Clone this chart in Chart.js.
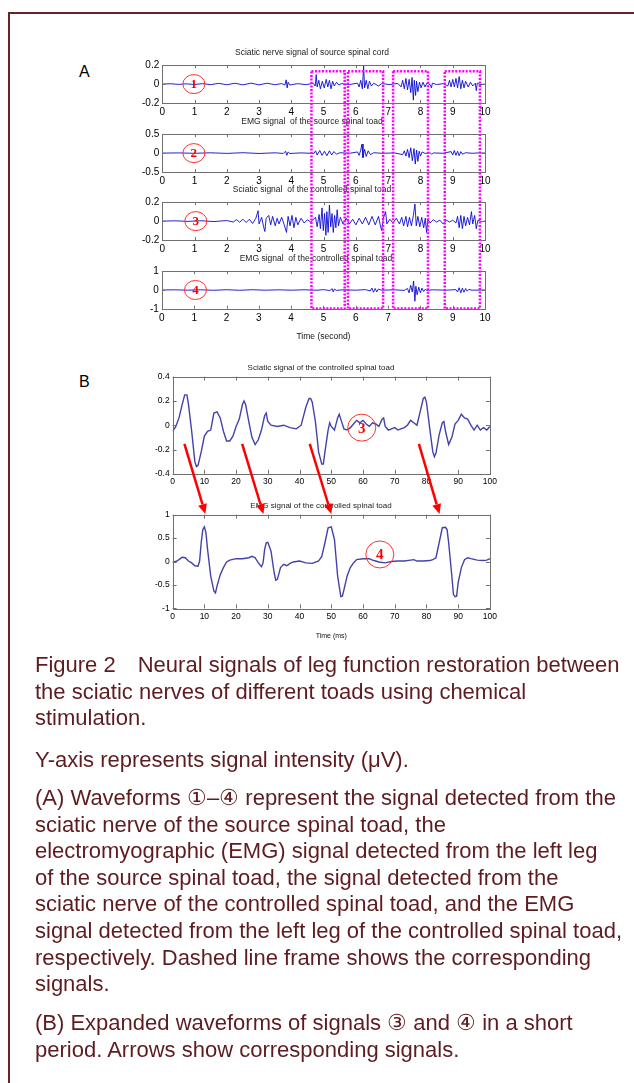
<!DOCTYPE html>
<html>
<head>
<meta charset="utf-8">
<script src="https://cdn.jsdelivr.net/npm/chart.js@4.4.0/dist/chart.umd.min.js"></script>
<style>
body{margin:0;width:634px;height:1083px;background:#fff;position:relative;overflow:hidden;font-family:Arial,"Liberation Sans",sans-serif}
.frame{position:absolute;left:8px;top:12px;width:700px;height:1200px;border-left:2px solid #6b2226;border-top:2px solid #6b2226}
canvas.c{position:absolute;left:0;top:0}
#overlay{position:absolute;left:0;top:0}
.panel{position:absolute;font-size:16px;color:#000}
.cap{position:absolute;left:35px;color:#5e1c20;font-size:22px;line-height:26.6px;white-space:nowrap}
</style>
</head>
<body>
<div class="frame"></div>
<div class="panel" style="left:79px;top:63px">A</div>
<div class="panel" style="left:79px;top:373px">B</div>
<canvas class="c" id="a1"></canvas>
<canvas class="c" id="a2"></canvas>
<canvas class="c" id="a3"></canvas>
<canvas class="c" id="a4"></canvas>
<canvas class="c" id="b1"></canvas>
<canvas class="c" id="b2"></canvas>
<canvas id="overlay" width="634" height="1083"></canvas>

<div class="cap" style="top:652px">Figure 2&ensp;&ensp;Neural signals of leg function restoration between<br>the sciatic nerves of different toads using chemical<br>stimulation.</div>
<div class="cap" style="top:747px">Y-axis represents signal intensity (μV).</div>
<div class="cap" style="top:785px">(A) Waveforms ①–④ represent the signal detected from the<br>sciatic nerve of the source spinal toad, the<br>electromyographic (EMG) signal detected from the left leg<br>of the source spinal toad, the signal detected from the<br>sciatic nerve of the controlled spinal toad, and the EMG<br>signal detected from the left leg of the controlled spinal toad,<br>respectively. Dashed line frame shows the corresponding<br>signals.</div>
<div class="cap" style="top:1010px">(B) Expanded waveforms of signals ③ and ④ in a short<br>period. Arrows show corresponding signals.</div>

<script>
// signal samples: [time, value]
const sciaticSource = [[0,0],[0.25,0.004],[0.5,-0.003],[0.75,0.003],[1.0,-0.004],[1.25,0.005],[1.5,-0.006],[1.75,0.008],[2.0,-0.007],[2.25,0.009],[2.5,-0.008],[2.75,0.01],[3.0,-0.008],[3.25,0.009],[3.5,-0.007],[3.7,0.006],[3.8,-0.01],[3.84,0.045],[3.87,-0.04],[3.9,0.02],[3.95,-0.01],[4.2,0.005],[4.45,-0.006],[4.68,0.008],[4.74,-0.02],[4.77,0.1],[4.8,-0.03],[4.85,0.04],[4.9,-0.05],[4.96,0.03],[5.02,-0.04],[5.08,0.05],[5.13,-0.03],[5.18,0.04],[5.23,-0.05],[5.28,0.03],[5.33,-0.02],[5.4,0.02],[5.47,-0.01],[5.55,0.005],[5.8,-0.005],[6.05,0.01],[6.1,-0.03],[6.15,0.04],[6.2,-0.05],[6.24,0.19],[6.27,-0.04],[6.32,0.04],[6.37,-0.05],[6.42,0.03],[6.48,-0.02],[6.55,0.01],[6.7,-0.02],[6.8,0.005],[7.05,-0.005],[7.3,0.008],[7.4,-0.03],[7.45,0.04],[7.5,-0.05],[7.55,0.06],[7.6,-0.06],[7.65,0.05],[7.7,-0.09],[7.74,0.07],[7.78,-0.17],[7.81,0.04],[7.85,-0.12],[7.88,0.03],[7.92,-0.08],[7.97,0.02],[8.02,-0.04],[8.08,0.02],[8.14,-0.03],[8.2,0.01],[8.3,-0.005],[8.34,-0.04],[8.37,0.01],[8.5,-0.005],[8.7,0.005],[8.85,-0.02],[8.9,0.04],[8.95,-0.03],[9.0,0.05],[9.05,-0.03],[9.1,0.06],[9.15,-0.04],[9.2,0.08],[9.25,-0.05],[9.3,0.04],[9.35,-0.04],[9.4,0.03],[9.48,-0.03],[9.55,0.02],[9.62,-0.02],[9.7,0.01],[9.73,-0.07],[9.76,0.01],[9.85,-0.005],[10,0]];
const emgSource = [[0,0],[0.5,0.005],[1,-0.005],[1.5,0.008],[2,-0.008],[2.5,0.01],[3,-0.01],[3.5,0.008],[3.75,-0.01],[3.82,0.05],[3.86,-0.06],[3.9,0.03],[3.95,-0.01],[4.3,0.005],[4.7,-0.008],[4.75,0.06],[4.8,-0.05],[4.88,0.07],[4.95,-0.06],[5.03,0.05],[5.1,-0.07],[5.18,0.06],[5.25,-0.05],[5.32,0.04],[5.4,-0.03],[5.5,0.01],[5.8,-0.005],[6.05,0.03],[6.1,-0.06],[6.15,0.08],[6.19,0.24],[6.22,-0.12],[6.27,0.1],[6.32,-0.09],[6.38,0.06],[6.45,-0.04],[6.55,0.01],[6.8,-0.005],[7.2,0.005],[7.45,-0.04],[7.5,0.06],[7.55,-0.08],[7.6,0.1],[7.65,-0.12],[7.7,0.14],[7.75,-0.2],[7.8,0.12],[7.84,-0.29],[7.88,0.08],[7.92,-0.22],[7.96,0.05],[8.0,-0.08],[8.05,0.03],[8.15,-0.01],[8.3,0.005],[8.35,-0.03],[8.4,0.005],[8.7,-0.005],[8.95,0.04],[9.0,-0.05],[9.05,0.07],[9.1,-0.06],[9.15,0.05],[9.2,-0.07],[9.25,0.04],[9.3,-0.03],[9.4,0.01],[9.6,-0.005],[9.8,0.005],[10,0]];
const sciaticControlled = [[0,0],[0.4,0.003],[0.8,-0.003],[1.2,0.004],[1.6,-0.005],[2.0,0.006],[2.2,-0.01],[2.3,0.015],[2.4,-0.012],[2.5,0.02],[2.6,-0.015],[2.7,0.02],[2.8,-0.025],[2.9,0.03],[2.97,0.11],[3.0,-0.03],[3.08,0.04],[3.14,-0.06],[3.18,-0.11],[3.22,0.03],[3.3,0.06],[3.36,-0.04],[3.42,0.05],[3.5,-0.05],[3.56,0.03],[3.62,-0.03],[3.7,0.04],[3.78,-0.04],[3.85,-0.12],[3.9,0.05],[3.96,-0.05],[4.02,0.06],[4.08,-0.07],[4.14,0.04],[4.2,-0.04],[4.3,0.03],[4.4,-0.02],[4.5,0.015],[4.6,-0.01],[4.75,0.04],[4.8,-0.06],[4.86,0.07],[4.9,-0.08],[4.95,0.14],[4.99,-0.1],[5.03,0.08],[5.07,-0.15],[5.1,0.1],[5.14,-0.12],[5.18,0.17],[5.22,-0.06],[5.26,0.08],[5.3,-0.12],[5.34,0.06],[5.38,-0.07],[5.42,0.12],[5.46,-0.05],[5.52,0.04],[5.6,-0.03],[5.7,0.03],[5.8,-0.03],[5.9,0.02],[6.0,-0.04],[6.1,0.03],[6.2,-0.03],[6.3,0.04],[6.4,-0.04],[6.5,0.05],[6.6,-0.04],[6.7,0.05],[6.76,-0.05],[6.8,-0.1],[6.85,0.03],[6.92,0.1],[6.96,-0.03],[7.05,0.02],[7.15,-0.02],[7.25,0.03],[7.35,-0.03],[7.42,0.04],[7.48,-0.05],[7.55,0.05],[7.6,-0.06],[7.66,0.04],[7.72,-0.05],[7.78,0.06],[7.83,0.18],[7.87,-0.05],[7.92,0.05],[7.98,-0.06],[8.04,0.04],[8.1,-0.07],[8.15,0.03],[8.19,-0.12],[8.23,0.02],[8.3,-0.02],[8.4,0.015],[8.5,-0.01],[8.6,0.01],[8.7,-0.03],[8.8,0.01],[8.9,-0.01],[9.0,0.01],[9.1,-0.02],[9.15,0.05],[9.2,-0.07],[9.25,0.06],[9.3,-0.08],[9.35,0.05],[9.4,-0.05],[9.46,0.04],[9.52,-0.04],[9.58,0.1],[9.62,-0.03],[9.68,0.06],[9.73,-0.08],[9.78,0.01],[9.9,-0.005],[10,0]];
const emgControlled = [[0,0],[0.4,0.01],[0.8,-0.01],[1.2,0.01],[1.6,-0.015],[2.0,0.015],[2.4,-0.015],[2.8,0.015],[3.2,-0.012],[3.6,0.01],[4.0,-0.01],[4.4,0.01],[4.8,-0.012],[5.0,0.02],[5.2,-0.03],[5.27,0.07],[5.3,-0.1],[5.34,0.05],[5.4,-0.02],[5.6,0.01],[6.0,-0.01],[6.3,0.02],[6.45,-0.05],[6.5,0.1],[6.55,-0.12],[6.6,0.08],[6.65,-0.1],[6.7,0.05],[6.8,-0.01],[7.2,0.01],[7.5,-0.02],[7.6,0.08],[7.65,-0.15],[7.7,0.25],[7.75,-0.1],[7.79,0.48],[7.83,-0.6],[7.86,0.2],[7.9,-0.25],[7.95,0.15],[8.0,-0.15],[8.05,0.1],[8.1,-0.08],[8.15,0.04],[8.2,-0.02],[8.4,0.01],[8.8,-0.01],[9.1,0.02],[9.15,-0.1],[9.2,0.12],[9.25,-0.15],[9.3,0.1],[9.35,-0.12],[9.4,0.08],[9.45,-0.06],[9.5,0.03],[9.6,-0.01],[10,0]];

// expanded 100 ms windows (panel B)
const sciaticMs = [[0,-0.05],[1,-0.01],[2,0.06],[3,0.17],[3.8,0.25],[4.5,0.25],[5,0.17],[6,-0.05],[7,-0.3],[7.5,-0.34],[8,-0.33],[9,-0.22],[10,-0.09],[11,-0.05],[12,-0.04],[13,0.1],[14,0.11],[15,0.06],[16,-0.05],[17,-0.13],[18,-0.13],[19,-0.09],[20,-0.01],[21,0.05],[22,0.17],[22.5,0.2],[23,0.17],[24,0.03],[25,-0.1],[26,-0.16],[27,-0.12],[28,-0.04],[29,0.08],[29.5,0.1],[30,0.03],[31,0],[33,-0.01],[35,0],[37,-0.02],[39,-0.03],[40.5,0],[41,0.05],[42,0.15],[43,0.22],[43.5,0.22],[44,0.19],[45,0.03],[46,-0.22],[47,-0.32],[47.5,-0.32],[48,-0.22],[49,-0.04],[49.5,0.02],[50,-0.01],[51,-0.04],[52,0.06],[52.5,0.09],[53,0.05],[54,-0.03],[55,-0.04],[56,-0.02],[57,0.01],[58,0.04],[59,0.02],[60,0.04],[61,0.01],[62,-0.01],[63,0.02],[64,0.01],[65,-0.01],[66,0.05],[66.5,0.06],[67,-0.01],[68,-0.04],[69,-0.03],[70,-0.02],[71,-0.04],[72,-0.03],[73,-0.02],[74,0],[75,0.04],[76,0.02],[77,0],[78,0.11],[79,0.22],[79.5,0.23],[80,0.19],[81,-0.02],[82,-0.22],[82.5,-0.26],[83,-0.23],[84,-0.08],[85,0.02],[85.5,0.03],[86,-0.05],[87,-0.16],[88,-0.1],[89,0.01],[90,0.04],[91,0.09],[92,0.06],[93,0.05],[94,0],[95,-0.04],[96,0],[97,-0.04],[98,-0.02],[99,-0.04],[100,-0.01]];
const emgMs = [[0,-0.01],[1,0],[2,0.04],[3,0.09],[4,0.08],[5,0.01],[6,-0.03],[7,-0.09],[8,-0.1],[8.5,0.01],[9,0.4],[9.5,0.68],[10,0.74],[10.5,0.61],[11,0.26],[12,-0.31],[13,-0.63],[13.5,-0.67],[14,-0.52],[15,-0.28],[16,-0.13],[17,-0.01],[18,0.03],[20,0.06],[22,0.06],[24,0.08],[25,0.11],[26,0.08],[27,-0.03],[28,-0.11],[28.5,-0.03],[29,0.26],[29.5,0.4],[30,0.41],[31,0.22],[32,-0.24],[32.5,-0.4],[33,-0.38],[34,-0.13],[35,-0.06],[36,-0.09],[37,-0.04],[38,-0.01],[40,0.01],[42,-0.03],[44,-0.04],[46,0.01],[47,0.11],[48,0.4],[49,0.72],[50,0.74],[51,0.47],[52,-0.31],[53,-0.75],[53.5,-0.74],[54,-0.6],[55,-0.31],[56,-0.13],[57,-0.03],[58,0.04],[60,0.06],[62,0.06],[63,0.03],[64,0.01],[65,-0.01],[67,-0.03],[69,0],[71,0.01],[73,0.01],[75,0.03],[76,0.04],[77,0.01],[79,0.01],[81,0.02],[82,0.04],[83,0.08],[84,0.4],[85,0.72],[86,0.73],[86.5,0.68],[87,0.4],[88,-0.31],[88.5,-0.7],[89,-0.75],[89.5,-0.74],[90,-0.45],[91,-0.13],[92,0.04],[93,0.08],[94,0.06],[96,0.03],[98,0.02],[99,0.03],[100,0.06]];

// dashed frames in panel A (seconds) and arrows in panel B (ms)
const frameStart = [4.63, 5.76, 7.16, 8.76];
const frameEnd = [5.66, 6.85, 8.24, 9.85];
const arrowFrom = [3.6, 21.8, 43.1, 77.5];
const arrowTo = [10.2, 28.5, 49.9, 84.0];

Chart.defaults.font.family = 'Arial, "Liberation Sans", sans-serif';

const fmt = v => String(Math.round(v * 100) / 100);

const matlabFrame = {
  id: 'matlabFrame',
  afterDatasetsDraw(chart, args, opts) {
    const { ctx, chartArea: a, scales: { x, y } } = chart;
    ctx.save();
    ctx.strokeStyle = '#707070';
    ctx.lineWidth = 1;
    ctx.beginPath();
    x.ticks.forEach(t => {
      const px = Math.round(x.getPixelForValue(t.value)) + 0.5;
      ctx.moveTo(px, a.bottom); ctx.lineTo(px, a.bottom - opts.len);
      ctx.moveTo(px, a.top); ctx.lineTo(px, a.top + opts.len);
    });
    y.ticks.forEach(t => {
      const py = Math.round(y.getPixelForValue(t.value)) + 0.5;
      ctx.moveTo(a.left, py); ctx.lineTo(a.left + opts.len, py);
      ctx.moveTo(a.right, py); ctx.lineTo(a.right - opts.len, py);
    });
    ctx.stroke();
    ctx.strokeRect(Math.round(a.left) + 0.5, Math.round(a.top) + 0.5, Math.round(a.width), Math.round(a.height));
    const r = opts.ring;
    if (r) {
      const cx = x.getPixelForValue(r.x), cy = y.getPixelForValue(r.y);
      ctx.strokeStyle = '#ff3030';
      ctx.beginPath();
      ctx.ellipse(cx, cy, r.rx, r.ry, 0, 0, Math.PI * 2);
      ctx.stroke();
      ctx.fillStyle = '#ff0000';
      ctx.font = 'bold ' + r.size + 'px "Liberation Serif", serif';
      ctx.textAlign = 'center';
      ctx.textBaseline = 'middle';
      ctx.fillText(r.text, cx, cy + 1);
    }
    ctx.restore();
  }
};

function build(id, box, o) {
  const canvas = document.getElementById(id);
  canvas.width = o.w; canvas.height = o.h;
  const cfg = () => ({
    type: 'line',
    data: { datasets: [{ data: o.data.map(p => ({ x: p[0], y: p[1] })), borderColor: o.color, borderWidth: o.lw, pointRadius: 0, tension: 0 }] },
    options: {
      responsive: false, maintainAspectRatio: false, animation: false, events: [],
      layout: { padding: { left: 2, right: 10, top: 2, bottom: 2 } },
      scales: {
        x: {
          type: 'linear', min: o.xmin, max: o.xmax,
          ticks: { stepSize: o.xstep, color: '#000', font: { size: o.tick }, padding: 3, maxRotation: 0, autoSkip: false },
          grid: { display: false, drawTicks: false }, border: { display: false },
          title: o.xtitle ? { display: true, text: o.xtitle, color: '#111', font: { size: o.xtitleSize }, padding: { top: o.xtitlePad, bottom: 0 } } : { display: false }
        },
        y: {
          min: o.ymin, max: o.ymax,
          ticks: { stepSize: o.ystep, color: '#000', font: { size: o.tick }, padding: 3, callback: fmt },
          grid: { display: false, drawTicks: false }, border: { display: false }
        }
      },
      plugins: {
        legend: { display: false }, tooltip: { enabled: false },
        title: { display: true, text: o.title, color: '#222', font: { size: o.titleSize, weight: 'normal' }, padding: { top: 0, bottom: o.titlePad } },
        matlabFrame: { len: o.tickLen, ring: o.ring }
      }
    },
    plugins: [matlabFrame]
  });
  let chart = new Chart(canvas, cfg());
  let ca = chart.chartArea;
  const w = Math.round(o.w + (box.r - box.l) - (ca.right - ca.left));
  const h = Math.round(o.h + (box.b - box.t) - (ca.bottom - ca.top));
  chart.destroy();
  canvas.width = w; canvas.height = h;
  chart = new Chart(canvas, cfg());
  ca = chart.chartArea;
  canvas.style.left = (box.l - ca.left) + 'px';
  canvas.style.top = (box.t - ca.top) + 'px';
  chart.$off = { x: box.l - ca.left, y: box.t - ca.top };
  return chart;
}

const aCommon = { w: 380, h: 100, color: '#0a0ad2', lw: 0.9, xmin: 0, xmax: 10, xstep: 1, tick: 10, titleSize: 8.5, titlePad: 7, tickLen: 3 };
const a1 = build('a1', { l: 162, r: 485, t: 65.5, b: 103 }, Object.assign({}, aCommon, { data: sciaticSource, ymin: -0.2, ymax: 0.2, ystep: 0.2, title: 'Sciatic nerve signal of source spinal cord', ring: { x: 0.98, y: 0, rx: 11, ry: 9.5, text: '1', size: 13 } }));
const a2 = build('a2', { l: 162, r: 485, t: 134, b: 171.5 }, Object.assign({}, aCommon, { data: emgSource, ymin: -0.5, ymax: 0.5, ystep: 0.5, title: 'EMG signal  of the source spinal toad', ring: { x: 0.98, y: 0, rx: 11, ry: 9.5, text: '2', size: 13 } }));
const a3 = build('a3', { l: 162, r: 485, t: 202.5, b: 240 }, Object.assign({}, aCommon, { data: sciaticControlled, ymin: -0.2, ymax: 0.2, ystep: 0.2, title: 'Sciatic signal  of the controlled spinal toad', ring: { x: 1.04, y: 0, rx: 11, ry: 9.5, text: '3', size: 13 } }));
const a4 = build('a4', { l: 162, r: 485, t: 271, b: 308.5 }, Object.assign({}, aCommon, { data: emgControlled, ymin: -1, ymax: 1, ystep: 1, title: 'EMG signal  of the controlled spinal toad', xtitle: 'Time (second)', xtitleSize: 8.5, xtitlePad: 5, ring: { x: 1.04, y: 0, rx: 11, ry: 9.5, text: '4', size: 13 } }));

const bCommon = { w: 380, h: 150, color: 'rgba(45,45,160,0.9)', lw: 1.4, xmin: 0, xmax: 100, xstep: 10, tick: 8.5, titleSize: 8, titlePad: 4, tickLen: 4 };
const b1 = build('b1', { l: 173, r: 490, t: 377, b: 474 }, Object.assign({}, bCommon, { data: sciaticMs, ymin: -0.4, ymax: 0.4, ystep: 0.2, title: 'Sciatic signal of the controlled spinal toad', ring: { x: 59.6, y: -0.02, rx: 14, ry: 13.5, text: '3', size: 15 } }));
const b2 = build('b2', { l: 173, r: 490, t: 515, b: 609 }, Object.assign({}, bCommon, { data: emgMs, ymin: -1, ymax: 1, ystep: 0.5, title: 'EMG signal of the controlled spinal toad', xtitle: 'Time (ms)', xtitleSize: 7, xtitlePad: 7, ring: { x: 65.3, y: 0.15, rx: 14, ry: 13.5, text: '4', size: 15 } }));

// overlay: dashed frames across panel A, arrows between the panel B plots
const px = (c, v) => c.$off.x + c.scales.x.getPixelForValue(v);
const py = (c, v) => c.$off.y + c.scales.y.getPixelForValue(v);
const ov = document.getElementById('overlay').getContext('2d');
ov.strokeStyle = '#ff00ff';
ov.lineWidth = 2.5;
ov.setLineDash([2, 1.5]);
const frameTop = py(a1, 0.14), frameBottom = py(a4, -1);
frameStart.forEach((s, i) => {
  const l = px(a1, s), r = px(a1, frameEnd[i]);
  ov.strokeRect(l, frameTop, r - l, frameBottom - frameTop);
});
ov.setLineDash([]);
ov.strokeStyle = '#ff0000';
ov.fillStyle = '#ff0000';
arrowFrom.forEach((s, i) => {
  const x0 = px(b1, s), y0 = py(b1, -0.15);
  const x1 = px(b2, arrowTo[i]), y1 = py(b2, 1.02);
  const ang = Math.atan2(y1 - y0, x1 - x0);
  const hl = 10, hw = 4.5;
  const bx = x1 - hl * Math.cos(ang), by = y1 - hl * Math.sin(ang);
  ov.lineWidth = 2.5;
  ov.beginPath(); ov.moveTo(x0, y0); ov.lineTo(bx, by); ov.stroke();
  ov.beginPath();
  ov.moveTo(x1, y1);
  ov.lineTo(bx + hw * Math.sin(ang), by - hw * Math.cos(ang));
  ov.lineTo(bx - hw * Math.sin(ang), by + hw * Math.cos(ang));
  ov.closePath(); ov.fill();
});
</script>
</body>
</html>
